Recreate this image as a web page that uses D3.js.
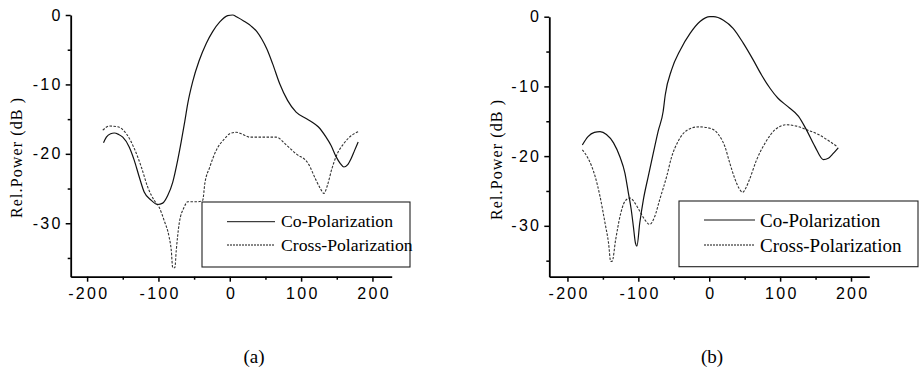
<!DOCTYPE html>
<html>
<head>
<meta charset="utf-8">
<script src="https://cdn.jsdelivr.net/npm/d3@7"></script>
<style>
  body { margin: 0; background: #fff; }
  svg { display: block; }
  .tick text { font-family: "Liberation Sans", Arial, sans-serif; }
</style>
</head>
<body>
<svg id="chart" width="924" height="381"></svg>
<script>
// panel (a)
const coAngleA = [-177, -173, -167, -162, -156, -150, -141, -134, -127, -120, -110, -101, -94, -87, -80, -73, -68, -63, -59, -52, -43, -33, -24, -14, -3, 4, 10, 20, 30, 38, 45, 52, 60, 70, 81, 93, 107, 115, 124, 135, 142, 149, 155, 160, 165, 170, 175, 180];
const coPowerA = [-18.4, -17.6, -17.1, -17.0, -17.2, -17.6, -19.0, -20.9, -23.3, -25.5, -26.7, -27.3, -27.1, -26.0, -24.1, -20.9, -18.2, -15.3, -12.8, -9.6, -6.6, -4.1, -2.4, -1.0, -0.1, 0, -0.3, -0.9, -1.6, -2.4, -3.5, -4.9, -7.0, -9.9, -12.3, -14.0, -14.9, -15.4, -16.1, -17.6, -18.8, -20.4, -21.4, -21.9, -21.6, -20.7, -19.5, -18.3];
const crossAngleA = [-178, -169, -157, -145, -134, -124, -115, -106, -99, -92, -85, -82, -80, -77, -75, -71, -64, -59, -45, -38, -35, -28, -19, -7, 0, 9, 18, 28, 45, 65, 80, 93, 110, 121, 127, 132, 137, 143, 149, 160, 170, 180];
const crossPowerA = [-16.6, -16.0, -16.1, -17.1, -19.2, -21.9, -24.8, -26.7, -27.7, -29.6, -32.0, -33.9, -36.4, -36.4, -33.9, -30.1, -27.7, -26.9, -26.9, -26.7, -24.3, -21.9, -19.5, -17.8, -17.1, -16.9, -17.2, -17.6, -17.6, -17.6, -18.8, -20.0, -21.4, -23.8, -25.0, -25.7, -24.5, -22.2, -20.4, -18.5, -17.4, -16.8];

// panel (b)
const coAngleB = [-179, -171, -162, -154, -145, -135, -126, -119, -114, -110, -107, -104, -102, -98, -93, -86, -79, -72, -65, -62, -53, -41, -27, -13, 1, 6, 20, 34, 48, 62, 74, 86, 97, 111, 126, 137, 149, 161, 168, 175, 182];
const coPowerB = [-18.4, -17.2, -16.6, -16.5, -16.9, -18.1, -20.1, -22.4, -25.3, -27.7, -30.1, -32.5, -32.9, -29.6, -26.3, -22.9, -19.6, -16.4, -13.6, -11.2, -7.6, -4.8, -2.4, -0.7, 0, 0, -0.5, -1.7, -3.8, -6.2, -8.4, -10.3, -11.7, -12.9, -14.3, -16.2, -18.6, -20.5, -20.3, -19.6, -18.8];
const crossAngleB = [-179, -171, -161, -154, -147, -142, -139, -137, -132, -126, -119, -112, -105, -98, -91, -84, -77, -70, -60, -53, -44, -30, -15, 1, 13, 22, 29, 36, 42, 47, 52, 57, 67, 79, 93, 109, 123, 137, 154, 170, 180];
const crossPowerB = [-19.1, -20.3, -22.9, -25.8, -29.6, -32.5, -35.1, -35.1, -32.0, -28.7, -26.5, -26.0, -26.7, -27.9, -29.1, -29.8, -28.7, -26.3, -22.9, -20.1, -17.9, -16.2, -15.8, -16.0, -16.9, -18.6, -21.0, -23.2, -24.6, -25.2, -24.5, -23.3, -20.5, -18.1, -16.2, -15.5, -15.7, -16.2, -16.9, -17.9, -18.6];

const xMajorTicks = [-200, -100, 0, 100, 200];
const xMinorTicks = [-150, -50, 50, 150];
const yMajorTicks = [0, -10, -20, -30];
const yMinorTicks = [-5, -15, -25, -35];
const seriesNames = ['Co-Polarization', 'Cross-Polarization'];
const yLabel = 'Rel.Power (dB )';
const captions = ['(a)', '(b)'];

const panels = [
  {co: [coAngleA, coPowerA], cross: [crossAngleA, crossPowerA],
    xDom: [-223, 227], xRange: [70.7, 391.7], yDom: [-37.7, 0], yRange: [276.7, 15],
    legend: {x: 202, y: 202, w: 208, h: 65, line: [227, 275], textX: 281, rows: [221.7, 245], base: [226.7, 250.7], fs: 17.7},
    labelX: 17, labelY: 158, caption: {x: 254, y: 363}},
  {co: [coAngleB, coPowerB], cross: [crossAngleB, crossPowerB],
    xDom: [-225.6, 225.8], xRange: [549.3, 869.3], yDom: [-37.3, 0], yRange: [276.7, 16.7],
    legend: {x: 679, y: 201, w: 239, h: 65.7, line: [704, 755], textX: 760, rows: [220, 245], base: [226.5, 251.5], fs: 19},
    labelX: 497, labelY: 160, caption: {x: 712, y: 363}},
];

const serif = '"Liberation Serif", "Times New Roman", serif';
const svg = d3.select('#chart');

panels.forEach((p, i) => {
  const x = d3.scaleLinear().domain(p.xDom).range(p.xRange);
  const y = d3.scaleLinear().domain(p.yDom).range(p.yRange);
  const g = svg.append('g');

  // minor ticks first
  g.append('g').attr('transform', 'translate(0,' + p.yRange[0] + ')')
      .call(d3.axisBottom(x).tickValues(xMinorTicks).tickSize(3).tickFormat(''))
      .call((a) => a.select('.domain').remove());
  g.append('g').attr('transform', 'translate(' + p.xRange[0] + ',0)')
      .call(d3.axisLeft(y).tickValues(yMinorTicks).tickSize(3).tickFormat(''))
      .call((a) => a.select('.domain').remove());

  const xAxis = g.append('g').attr('transform', 'translate(0,' + p.yRange[0] + ')')
      .call(d3.axisBottom(x).tickValues(xMajorTicks).tickSize(5).tickSizeOuter(0)
          .tickPadding(6).tickFormat((d) => String(d)));
  xAxis.selectAll('text').attr('font-size', 16).attr('fill', '#000')
      .attr('letter-spacing', '2.3px').attr('dx', 1.2);

  const yAxis = g.append('g').attr('transform', 'translate(' + p.xRange[0] + ',0)')
      .call(d3.axisLeft(y).tickValues(yMajorTicks).tickSize(5).tickSizeOuter(0)
          .tickPadding(3).tickFormat((d) => String(d)));
  yAxis.selectAll('text').attr('font-size', 16).attr('fill', '#000')
      .attr('letter-spacing', '2.3px');

  g.selectAll('.domain').attr('stroke', '#000').attr('stroke-width', 1.8);
  g.selectAll('.tick line').attr('stroke', '#000').attr('stroke-width', 1.5);

  const line = d3.line()
      .x((d) => x(d[0]))
      .y((d) => y(d[1]))
      .curve(d3.curveMonotoneX);

  const coData = d3.zip(p.co[0], p.co[1]);
  const crossData = d3.zip(p.cross[0], p.cross[1]);

  g.append('path').datum(crossData)
      .attr('d', line)
      .attr('fill', 'none')
      .attr('stroke', '#333')
      .attr('stroke-width', 1.1)
      .attr('stroke-dasharray', '2.5,1.5');

  g.append('path').datum(coData)
      .attr('d', line)
      .attr('fill', 'none')
      .attr('stroke', '#111')
      .attr('stroke-width', 1.2);

  // legend
  const L = p.legend;
  g.append('rect')
      .attr('x', L.x).attr('y', L.y)
      .attr('width', L.w).attr('height', L.h)
      .attr('fill', '#fff').attr('stroke', '#222').attr('stroke-width', 1.1);
  seriesNames.forEach((name, j) => {
    g.append('line')
        .attr('x1', L.line[0]).attr('x2', L.line[1])
        .attr('y1', L.rows[j]).attr('y2', L.rows[j])
        .attr('stroke', '#111').attr('stroke-width', 1)
        .attr('stroke-dasharray', j == 1 ? '2,1' : null);
    g.append('text')
        .attr('x', L.textX).attr('y', L.base[j])
        .attr('font-family', serif)
        .attr('font-size', L.fs)
        .attr('fill', '#000')
        .text(name);
  });

  // y label
  g.append('text')
      .attr('transform', 'translate(' + (p.labelX + 5) + ',' + p.labelY + ') rotate(-90)')
      .attr('text-anchor', 'middle')
      .attr('font-family', serif)
      .attr('font-size', 16)
      .attr('textLength', 120)
      .attr('lengthAdjust', 'spacing')
      .attr('fill', '#000')
      .text(yLabel);

  svg.append('text')
      .attr('x', p.caption.x).attr('y', p.caption.y)
      .attr('text-anchor', 'middle')
      .attr('font-family', serif)
      .attr('font-size', 19)
      .attr('fill', '#000')
      .text(captions[i]);
});
</script>
</body>
</html>
